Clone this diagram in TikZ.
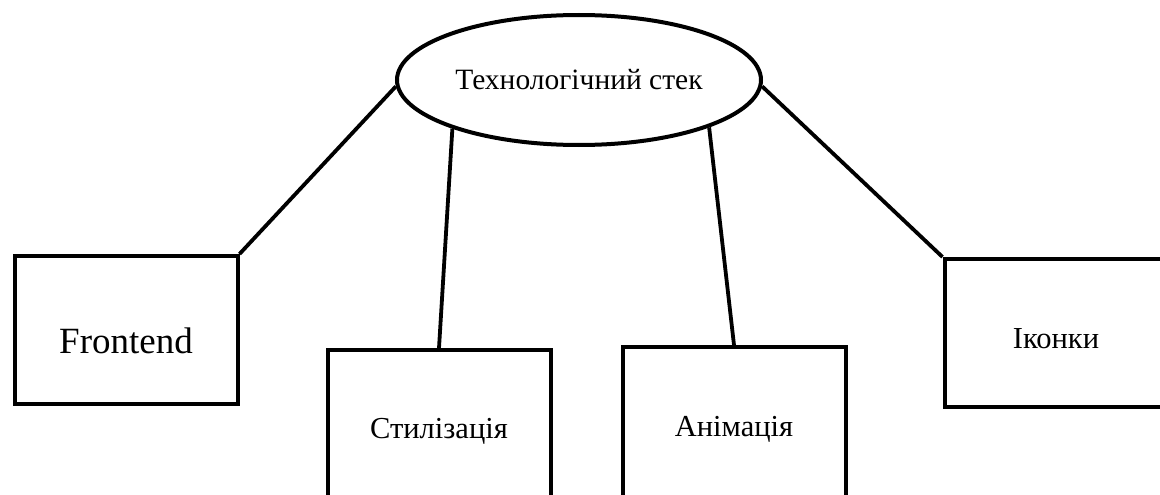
\documentclass[tikz,border=0pt]{standalone}
\usepackage{fontspec}
\setmainfont{Liberation Serif}
\newfontfamily\labelfont{Liberation Serif}
\usetikzlibrary{shapes.geometric}

\tikzset{
  topic/.style={ellipse, draw, line width=4pt, inner sep=0pt,
    minimum width=364pt, minimum height=130pt,
    font=\labelfont\fontsize{29.5}{32}\selectfont},
  part/.style={rectangle, draw, line width=4pt, inner sep=0pt,
    minimum width=223pt, minimum height=148pt, text depth=0pt,
    font=\labelfont\fontsize{30.5}{34}\selectfont},
  link/.style={line width=3.8pt}
}

\begin{document}
\begin{tikzpicture}[x=1pt, y=-1pt]
  \useasboundingbox (0,0) rectangle (1160,495);
  \fill[white] (0,0) rectangle (1160,495);
  \clip (0,0) rectangle (1160,495);

  % central concept
  \node[topic] (stack) at (579,80) {Технологічний стек};

  % the four parts of the stack
  \node[part, text height=47pt, font=\labelfont\fontsize{37}{40}\selectfont]
    (front) at (126,330) {Frontend};
  \node[part, minimum height=156pt, text height=20pt] (style) at (439,428) {Стилізація};
  \node[part, minimum height=158pt, text height=20pt] (anim) at (734,426) {Анімація};
  \node[part, text height=30pt] (icons) at (1056,333) {Іконки};

  % connectors
  \draw[link] (stack.182) -- (front.north east);
  \draw[link] (stack.201) -- (style.north);
  \draw[link] (stack.340) -- (anim.north);
  \draw[link] (stack.358) -- (icons.north west);
\end{tikzpicture}
\end{document}
